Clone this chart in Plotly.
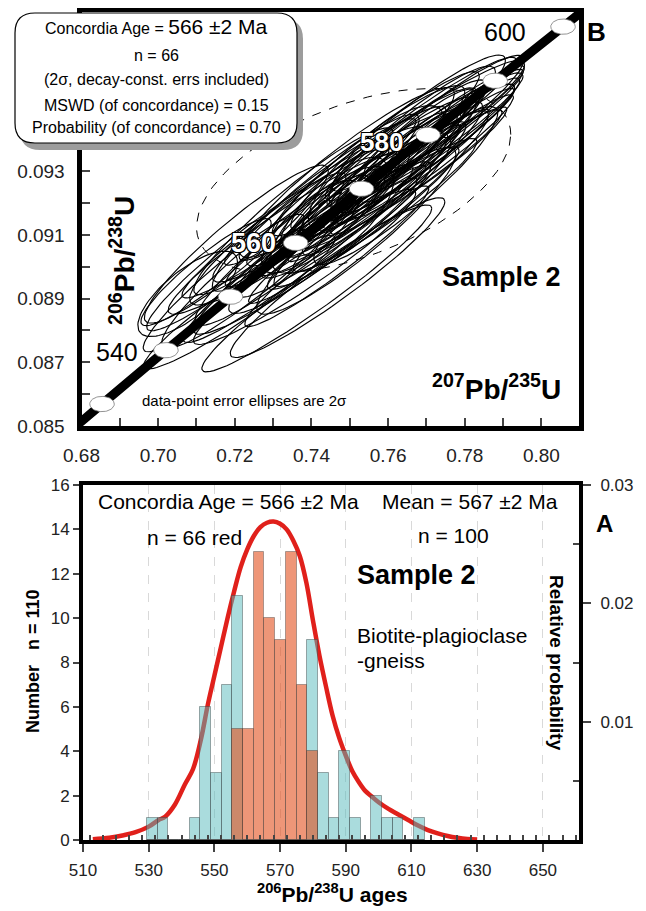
import numpy as np
import plotly.graph_objects as go

# the page body has an 8 px margin, so the figure is 8 px smaller than the window
OFF = 8
W, H = 646 - OFF, 911 - OFF
FONT = "Liberation Sans, Arial, sans-serif"

# ---------------- panel A: histogram of 206Pb/238U ages ----------------
bin_centers = [531.125, 534.375, 537.625, 540.875, 544.125, 547.375, 550.625, 553.875,
               557.125, 560.375, 563.625, 566.875, 570.125, 573.375, 576.625, 579.875,
               583.125, 586.375, 589.625, 592.875, 596.125, 599.375, 602.625, 605.875,
               609.125, 612.375]
bin_width = 3.25
teal_counts = [1, 1, 0, 0, 1, 6, 3, 7, 11, 0, 0, 0, 0, 0, 0, 9, 3, 1, 4, 1, 0, 2, 1, 1, 0, 1]
red_counts = [0, 0, 0, 0, 0, 0, 0, 0, 5, 5, 13, 10, 9, 13, 7, 4, 0, 0, 0, 0, 0, 0, 0, 0, 0, 0]

# relative probability curve
pdf_age = [513, 518, 522, 526, 530, 533, 535, 538, 541, 543.5, 546, 548, 550, 552, 554, 556,
           558, 560, 562, 564, 566, 568, 570, 572, 574, 576, 578, 580, 582, 584, 586, 588,
           590, 592, 594, 596, 598, 600, 603, 606, 609, 612, 615, 618, 621, 624, 627, 630]
pdf_prob = [0.00006, 0.00019, 0.00038, 0.00066, 0.00113, 0.00169, 0.00197, 0.0030, 0.00469,
            0.0060, 0.00863, 0.01144, 0.01388, 0.01631, 0.01875, 0.0210, 0.02306, 0.02456,
            0.02569, 0.02644, 0.02681, 0.02691, 0.02672, 0.02625, 0.02531, 0.0240, 0.02175,
            0.01856, 0.01556, 0.01294, 0.0105, 0.00863, 0.00713, 0.00581, 0.00488, 0.00413,
            0.00366, 0.00319, 0.00263, 0.00216, 0.00169, 0.00122, 0.00084, 0.00056, 0.00034,
            0.00019, 0.00009, 0.00004]

# ---------------- panel B: concordia diagram ----------------
conc_age = [520, 530, 540, 550, 560, 570, 580, 590, 600, 610]
conc_x = [0.66883, 0.68535, 0.70203, 0.71887, 0.73588, 0.75306, 0.77041, 0.78793, 0.80563, 0.82350]
conc_y = [0.08401, 0.08569, 0.08738, 0.08906, 0.09075, 0.09245, 0.09414, 0.09584, 0.09754, 0.09925]
marker_ages = [530, 540, 550, 560, 570, 580, 590, 600]

ell_x = [0.7212, 0.7077, 0.7414, 0.7171, 0.7468, 0.7125, 0.7382, 0.7279, 0.7466, 0.7230,
         0.7402, 0.7204, 0.7456, 0.7376, 0.7326, 0.7517, 0.7375, 0.7474, 0.7332, 0.7454,
         0.7535, 0.7392, 0.7519, 0.7353, 0.7503, 0.7457, 0.7592, 0.7411, 0.7500, 0.7582,
         0.7462, 0.7566, 0.7423, 0.7557, 0.7512, 0.7646, 0.7481, 0.7570, 0.7637, 0.7531,
         0.7621, 0.7493, 0.7680, 0.7589, 0.7664, 0.7550, 0.7640, 0.7596, 0.7717, 0.7568,
         0.7690, 0.7646, 0.7729, 0.7626, 0.7702, 0.7660, 0.7753, 0.7696, 0.7736, 0.7694,
         0.7772, 0.7745, 0.7365, 0.7400, 0.7526, 0.7600]
ell_y = [0.08889, 0.08915, 0.08932, 0.08949, 0.08966, 0.08983, 0.09000, 0.09016, 0.09033, 0.09047,
         0.09059, 0.09071, 0.09082, 0.09092, 0.09103, 0.09113, 0.09121, 0.09130, 0.09138, 0.09147,
         0.09153, 0.09160, 0.09167, 0.09174, 0.09180, 0.09187, 0.09194, 0.09201, 0.09208, 0.09214,
         0.09221, 0.09228, 0.09235, 0.09241, 0.09248, 0.09255, 0.09262, 0.09269, 0.09275, 0.09282,
         0.09289, 0.09296, 0.09302, 0.09309, 0.09316, 0.09323, 0.09330, 0.09338, 0.09347, 0.09355,
         0.09364, 0.09372, 0.09381, 0.09389, 0.09398, 0.09408, 0.09418, 0.09428, 0.09438, 0.09448,
         0.09459, 0.09469, 0.09042, 0.09126, 0.09211, 0.09313]
ell_sx = [0.025, 0.013, 0.030, 0.021, 0.028, 0.017, 0.029, 0.027, 0.024, 0.026,
          0.031, 0.024, 0.022, 0.028, 0.030, 0.026, 0.020, 0.029, 0.027, 0.016,
          0.025, 0.031, 0.018, 0.026, 0.030, 0.014, 0.024, 0.027, 0.021, 0.028,
          0.032, 0.019, 0.025, 0.029, 0.012, 0.024, 0.027, 0.022, 0.026, 0.030,
          0.017, 0.028, 0.023, 0.027, 0.020, 0.025, 0.029, 0.015, 0.021, 0.027,
          0.024, 0.018, 0.020, 0.028, 0.025, 0.022, 0.019, 0.026, 0.022, 0.024,
          0.018, 0.021, 0.030, 0.013, 0.026, 0.023]
ell_sy = [0.0021, 0.00134, 0.00262, 0.00216, 0.00251, 0.00168, 0.00244, 0.00272, 0.00221, 0.00248,
          0.00271, 0.00248, 0.00197, 0.00276, 0.00252, 0.00262, 0.00184, 0.00277, 0.00236, 0.00168,
          0.00224, 0.0028, 0.00151, 0.00262, 0.00276, 0.00157, 0.00209, 0.00278, 0.00188, 0.00276,
          0.00269, 0.00192, 0.0023, 0.00277, 0.00134, 0.00248, 0.00242, 0.00217, 0.00218, 0.0028,
          0.00156, 0.00267, 0.0020, 0.00278, 0.00179, 0.00246, 0.00244, 0.00168, 0.00193, 0.00258,
          0.00209, 0.00186, 0.00179, 0.00276, 0.00211, 0.00222, 0.00175, 0.0022, 0.00193, 0.0021,
          0.00161, 0.00195, 0.0028, 0.00146, 0.00239, 0.0022]
ell_rho = [0.95, 0.74, 0.96, 0.94, 0.95, 0.92, 0.95, 0.94, 0.96, 0.95,
           0.95, 0.93, 0.96, 0.94, 0.95, 0.92, 0.95, 0.94, 0.96, 0.72,
           0.95, 0.93, 0.96, 0.94, 0.95, 0.76, 0.95, 0.94, 0.96, 0.95,
           0.95, 0.93, 0.96, 0.94, 0.72, 0.92, 0.95, 0.94, 0.96, 0.95,
           0.95, 0.93, 0.96, 0.94, 0.95, 0.92, 0.95, 0.74, 0.96, 0.95,
           0.95, 0.93, 0.96, 0.94, 0.95, 0.92, 0.95, 0.94, 0.96, 0.95,
           0.95, 0.93, 0.96, 0.76, 0.95, 0.92]

# dashed ellipses: mean of all grains (thin) and the concordia age (bold)
mean_ell = (0.751, 0.0927, 0.041, 0.0029, 0.5)
conc_ell = (0.7447, 0.09176, 0.0072, 0.00066, 0.8)


def ellipse(cx, cy, sx, sy, rho, n=90):
    t = np.linspace(0, 2 * np.pi, n)
    return (cx + sx * np.cos(t),
            cy + sy * (rho * np.cos(t) + np.sqrt(1 - rho ** 2) * np.sin(t)))


# window pixels -> paper fractions
def px(x):
    return (x - OFF) / W


def py(y):
    return 1 - (y - OFF) / H


fig = go.Figure()

# error ellipses, one trace with gaps
ex, ey = [], []
for cx, cy, sx, sy, r in zip(ell_x, ell_y, ell_sx, ell_sy, ell_rho):
    xx, yy = ellipse(cx, cy, sx, sy, r)
    ex += list(xx) + [None]
    ey += list(yy) + [None]
fig.add_trace(go.Scatter(x=ex, y=ey, mode="lines", line=dict(color="black", width=1.15),
                         xaxis="x", yaxis="y", hoverinfo="skip"))

xx, yy = ellipse(*mean_ell)
fig.add_trace(go.Scatter(x=xx, y=yy, mode="lines", line=dict(color="black", width=1, dash="dash"),
                         xaxis="x", yaxis="y", hoverinfo="skip"))

# concordia curve
fig.add_trace(go.Scatter(x=conc_x, y=conc_y, mode="lines", line=dict(color="black", width=9, shape="spline"),
                         xaxis="x", yaxis="y", hoverinfo="skip"))

xx, yy = ellipse(*conc_ell)
fig.add_trace(go.Scatter(x=xx, y=yy, mode="lines", line=dict(color="black", width=2.5, dash="dash"),
                         xaxis="x", yaxis="y", hoverinfo="skip"))

# age markers on the concordia
mx, my = [], []
t = np.linspace(0, 2 * np.pi, 60)
for a, cx, cy in zip(conc_age, conc_x, conc_y):
    if a in marker_ages:
        mx += list(cx + 0.0032 * np.cos(t)) + [None]
        my += list(cy + 0.00024 * np.sin(t)) + [None]
fig.add_trace(go.Scatter(x=mx, y=my, mode="lines", fill="toself", fillcolor="white",
                         line=dict(color="#777777", width=0.8), xaxis="x", yaxis="y", hoverinfo="skip"))

# ---------- panel A traces ----------
fig.add_trace(go.Scatter(x=pdf_age, y=pdf_prob, mode="lines", line=dict(color="#e0201b", width=4.5, shape="spline"),
                         xaxis="x2", yaxis="y2", hoverinfo="skip"))
fig.add_trace(go.Bar(x=bin_centers, y=teal_counts, width=bin_width,
                     marker=dict(color="rgba(85,185,187,0.5)", line=dict(color="rgba(60,70,70,0.45)", width=1)),
                     xaxis="x2", yaxis="y3"))
fig.add_trace(go.Bar(x=bin_centers, y=red_counts, width=bin_width,
                     marker=dict(color="rgba(227,80,30,0.6)", line=dict(color="rgba(60,60,60,0.4)", width=1)),
                     xaxis="x2", yaxis="y3"))

tickfont_b = dict(family=FONT, size=19, color="#222")
tickfont_a = dict(family=FONT, size=17, color="#222")
y_b_ticks = [0.085, 0.087, 0.089, 0.091, 0.093, 0.095, 0.097]
y_b_text = ["0.085", "0.087", "0.089", "0.091", "0.093", "", ""]

fig.update_layout(
    width=W, height=H, margin=dict(l=0, r=0, t=0, b=0, autoexpand=False),
    plot_bgcolor="white", paper_bgcolor="white", showlegend=False,
    barmode="overlay", bargap=0,
    font=dict(family=FONT, color="black"),
    xaxis=dict(domain=[px(81.5), px(579)], anchor="y", range=[0.68, 0.8098], automargin=False,
               showline=True, linewidth=5, linecolor="black", mirror=True,
               ticks="inside", ticklen=8, tickwidth=1.5, tick0=0.68, dtick=0.02, tickformat=".2f",
               minor=dict(dtick=0.01, ticks="inside", ticklen=8, tickwidth=1.5),
               showgrid=False, zeroline=False, tickfont=tickfont_b, ticklabelstandoff=8),
    yaxis=dict(domain=[py(426), py(12)], anchor="x", range=[0.085, 0.098], automargin=False,
               showline=True, linewidth=5, linecolor="black", mirror=True,
               ticks="inside", ticklen=8, tickwidth=1.5, tickvals=y_b_ticks, ticktext=y_b_text,
               minor=dict(dtick=0.001, ticks="inside", ticklen=8, tickwidth=1.5),
               showgrid=False, zeroline=False, tickfont=tickfont_b, ticklabelstandoff=8),
    xaxis2=dict(domain=[px(83), px(579)], anchor="y3", range=[510, 661], automargin=False,
                showline=True, linewidth=4, linecolor="black", mirror=True,
                ticks="outside", ticklen=8, tickwidth=2, tick0=510, dtick=20,
                minor=dict(dtick=4, ticks="inside", ticklen=5, tickwidth=1.5, showgrid=False),
                showgrid=True, gridcolor="#d9d9d9", griddash="dash", gridwidth=1,
                zeroline=False, tickfont=tickfont_a, ticklabelstandoff=4),
    yaxis2=dict(domain=[py(840), py(485)], anchor="x2", side="right", range=[0, 0.03], automargin=False,
                showline=True, linewidth=4, linecolor="black",
                tickvals=[0.01, 0.02, 0.03], ticks="outside", ticklen=8, tickwidth=2,
                minor=dict(tickvals=[0.005, 0.015, 0.025], ticks="inside", ticklen=6, tickwidth=1.5),
                showgrid=False, zeroline=False, tickfont=tickfont_a, ticklabelstandoff=6),
    yaxis3=dict(domain=[py(840), py(485)], anchor="x2", overlaying="y2", side="left", range=[0, 16],
                automargin=False, showline=True, linewidth=4, linecolor="black",
                dtick=2, ticks="outside", ticklen=6, tickwidth=2,
                showgrid=False, zeroline=False, tickfont=tickfont_a),
)


# statistics box with shadow (rounded rectangle, paper coords)
def rounded(x0, y0, x1, y1, r):
    rx, ry = r / W, r / H
    X0, X1, Y0, Y1 = px(x0), px(x1), py(y1), py(y0)
    return (f"M{X0 + rx},{Y1} L{X1 - rx},{Y1} Q{X1},{Y1} {X1},{Y1 - ry} "
            f"L{X1},{Y0 + ry} Q{X1},{Y0} {X1 - rx},{Y0} L{X0 + rx},{Y0} "
            f"Q{X0},{Y0} {X0},{Y0 + ry} L{X0},{Y1 - ry} Q{X0},{Y1} {X0 + rx},{Y1} Z")


fig.add_shape(type="path", path=rounded(20, 19, 303, 150, 20), xref="paper", yref="paper",
              fillcolor="#9c9c9c", line=dict(width=0), layer="above")
fig.add_shape(type="path", path=rounded(15, 13, 297, 143, 20), xref="paper", yref="paper",
              fillcolor="white", line=dict(color="black", width=1.2), layer="above")


def note(text, x, y, size, bold=False, color="black", angle=0, xanchor="center", shadow=None):
    f = dict(family=FONT, size=size, color=color, weight="bold" if bold else "normal")
    if shadow:
        f["shadow"] = shadow
    fig.add_annotation(text=text, x=px(x), y=py(y), xref="paper", yref="paper",
                       showarrow=False, font=f, textangle=angle,
                       xanchor=xanchor, yanchor="middle")


outline = "-1px -1px 0 #000, 1px -1px 0 #000, -1px 1px 0 #000, 1px 1px 0 #000"

# panel B text
note("Concordia Age = <span style='font-size:21px'>566 ±2 Ma</span>", 156, 27, 16)
note("n = 66", 156, 55, 16)
note("(2σ, decay-const. errs included)", 156, 80, 16)
note("MSWD (of concordance) = 0.15", 156, 105, 16)
note("Probability (of concordance) = 0.70", 156, 128, 16)
note("B", 596, 32, 26, bold=True)
note("540", 117, 352, 25)
note("560", 253, 243, 27, bold=True, color="white", shadow=outline)
note("580", 381, 142, 26, bold=True, color="white", shadow=outline)
note("600", 505, 32, 25)
note("Sample 2", 501, 277, 27, bold=True)
note("<sup>207</sup>Pb/<sup>235</sup>U", 497, 387, 28, bold=True)
note("<sup>206</sup>Pb/<sup>238</sup>U", 122, 260, 28, bold=True, angle=-90)
note("data-point error ellipses are 2σ", 244, 400, 15)

# panel A text
note("Concordia Age = 566 ±2 Ma", 228, 501, 21)
note("Mean = 567 ±2 Ma", 470, 501, 21)
note("n = 66 red", 195, 537, 21)
note("n = 100", 453, 535, 21)
note("Sample 2", 355, 575, 27, bold=True, xanchor="left")
note("Biotite-plagioclase", 355, 635, 21, xanchor="left")
note("-gneiss", 355, 660, 21, xanchor="left")
note("A", 604, 523, 24, bold=True)
note("Relative probability", 557, 663, 19, bold=True, angle=90)
note("Number\u00a0\u00a0\u00a0n = 110", 33, 661, 18, bold=True, angle=-90)
note("<sup>206</sup>Pb/<sup>238</sup>U ages", 332, 893, 21, bold=True)

fig.write_html("out.html")
